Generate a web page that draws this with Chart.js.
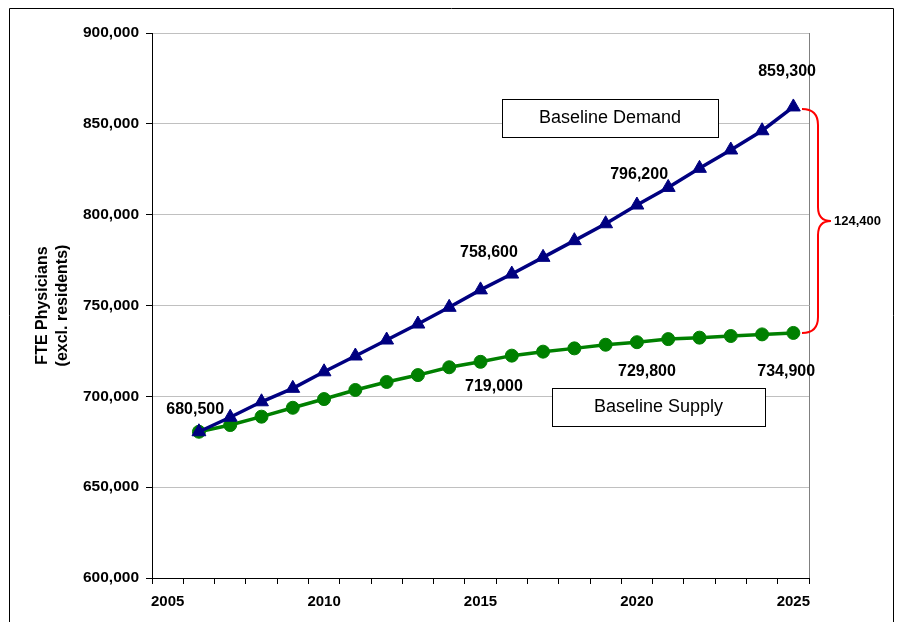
<!DOCTYPE html>
<html lang="en">
<head>
    <meta charset="UTF-8">
    <title>FTE Physicians: Baseline Demand vs Supply</title>
    <script src="https://cdn.jsdelivr.net/npm/chart.js"></script>
    <style>
        body { margin: 0; background: #fff; }
    </style>
</head>
<body>
    <canvas id="chart" width="899" height="622"></canvas>

    <script>
        // data
        const years = ['2005', '2006', '2007', '2008', '2009', '2010', '2011', '2012', '2013', '2014', '2015',
                       '2016', '2017', '2018', '2019', '2020', '2021', '2022', '2023', '2024', '2025'];
        const demand = [null, 680500, 688500, 697000, 704400, 713500, 722200, 731000, 739800, 749000, 758600,
                        767300, 776500, 785700, 795000, 805300, 815000, 825500, 835600, 846200, 859300];
        const supply = [null, 680500, 684200, 688800, 693700, 698500, 703500, 707900, 711700, 716000, 719000,
                        722400, 724600, 726400, 728400, 729800, 731500, 732300, 733200, 734100, 734900];
        const yTicks = [600000, 650000, 700000, 750000, 800000, 850000, 900000];
        const labelYears = ['2005', '2010', '2015', '2020', '2025'];

        const valueNotes = ['680,500', '758,600', '796,200', '859,300', '719,000', '729,800', '734,900'];
        const boxNotes = ['Baseline Demand', 'Baseline Supply'];
        const gapNote = '124,400';

        const FONT = "'Liberation Sans', Arial, sans-serif";
        const fmt = v => v.toLocaleString('en-US');

        // where the notes sit (year, value)
        const notePos = [
            [2005.88, 692500], [2015.27, 778900], [2020.07, 821800], [2024.8, 878500],
            [2015.43, 705100], [2020.32, 713400], [2024.77, 713400]
        ];
        const boxPos = [[2019.14, 853200, 216, 38], [2020.69, 694100, 213, 38]];

        const extras = {
            id: 'extras',
            afterDraw(chart) {
                const c = chart.ctx;
                const xs = chart.scales.x, ys = chart.scales.y, area = chart.chartArea;
                const px = yr => xs.getPixelForValue(yr - 2005);
                c.save();

                // outer frame
                c.strokeStyle = '#000';
                c.lineWidth = 1;
                c.beginPath();
                c.moveTo(9.5, 640);
                c.lineTo(9.5, 8.5);
                c.lineTo(893.5, 8.5);
                c.lineTo(893.5, 640);
                c.stroke();

                // right edge of plot area
                c.strokeStyle = '#808080';
                c.beginPath();
                c.moveTo(Math.round(area.right) + 0.5, area.top);
                c.lineTo(Math.round(area.right) + 0.5, area.bottom);
                c.stroke();

                // value labels
                c.fillStyle = '#000';
                c.font = 'bold 16px ' + FONT;
                c.textAlign = 'center';
                c.textBaseline = 'middle';
                valueNotes.forEach((t, i) => {
                    c.fillText(t, px(notePos[i][0]), ys.getPixelForValue(notePos[i][1]));
                });

                // boxed series names
                c.font = '18px ' + FONT;
                boxNotes.forEach((t, i) => {
                    const [yr, v, w, h] = boxPos[i];
                    const cx = px(yr), cy = ys.getPixelForValue(v);
                    c.fillStyle = '#fff';
                    c.fillRect(cx - w / 2, cy - h / 2, w, h);
                    c.strokeStyle = '#000';
                    c.strokeRect(Math.round(cx - w / 2) + 0.5, Math.round(cy - h / 2) + 0.5, w, h);
                    c.fillStyle = '#000';
                    c.fillText(t, cx, cy);
                });

                // red brace for the gap in the last year
                const last = demand.length - 1;
                const yTop = ys.getPixelForValue(demand[last]) + 2;
                const yBot = ys.getPixelForValue(supply[last]);
                const yMid = (yTop + yBot) / 2;
                const x0 = area.right - 7, x1 = area.right + 9, xt = area.right + 22;
                c.strokeStyle = '#ff0000';
                c.lineWidth = 2;
                c.beginPath();
                c.moveTo(x0, yTop);
                c.quadraticCurveTo(x1, yTop, x1, yTop + 16);
                c.lineTo(x1, yMid - 14);
                c.quadraticCurveTo(x1, yMid, xt, yMid);
                c.quadraticCurveTo(x1, yMid, x1, yMid + 14);
                c.lineTo(x1, yBot - 16);
                c.quadraticCurveTo(x1, yBot, x0, yBot);
                c.stroke();

                c.fillStyle = '#000';
                c.font = 'bold 13px ' + FONT;
                c.textAlign = 'left';
                c.fillText(gapNote, xt + 3, yMid);
                c.restore();
            }
        };

        new Chart(document.getElementById('chart'), {
            type: 'line',
            data: {
                labels: years,
                datasets: [{
                    label: 'Baseline Demand',
                    data: demand,
                    borderColor: '#000080',
                    backgroundColor: '#000080',
                    borderWidth: 3.5,
                    pointStyle: 'triangle',
                    pointRadius: 8,
                    pointBorderWidth: 1,
                    tension: 0
                }, {
                    label: 'Baseline Supply',
                    data: supply,
                    borderColor: '#008000',
                    backgroundColor: '#008000',
                    borderWidth: 3.5,
                    pointStyle: 'circle',
                    pointRadius: 6.5,
                    pointBorderWidth: 1,
                    tension: 0
                }]
            },
            options: {
                responsive: false,
                animation: false,
                layout: { padding: { left: 0, right: 90, top: 33, bottom: 0 } },
                plugins: {
                    legend: { display: false },
                    tooltip: { enabled: false }
                },
                scales: {
                    x: {
                        offset: true,
                        grid: {
                            offset: true,
                            drawOnChartArea: false,
                            tickColor: '#000',
                            tickLength: 6
                        },
                        border: { color: '#000' },
                        ticks: {
                            autoSkip: false,
                            maxRotation: 0,
                            padding: 9,
                            color: '#000',
                            font: { family: FONT, size: 15, weight: 'bold' },
                            callback: function(val) {
                                const y = this.getLabelForValue(val);
                                return labelYears.includes(y) ? y : '';
                            }
                        },
                        afterFit: s => { s.height = 44; }
                    },
                    y: {
                        min: 600000,
                        max: 900000,
                        afterBuildTicks: s => { s.ticks = yTicks.map(v => ({ value: v })); },
                        grid: {
                            color: '#c0c0c0',
                            tickColor: '#000',
                            tickLength: 6
                        },
                        border: { color: '#000' },
                        ticks: {
                            padding: 7,
                            color: '#000',
                            font: { family: FONT, size: 15.5, weight: 'bold' },
                            callback: v => fmt(v)
                        },
                        title: {
                            display: true,
                            text: ['FTE Physicians', '(excl. residents)'],
                            color: '#000',
                            font: { family: FONT, size: 16, weight: 'bold', lineHeight: 1.25 },
                            padding: { top: 33, bottom: 0 }
                        },
                        afterFit: s => { s.width = 152; }
                    }
                }
            },
            plugins: [extras]
        });
    </script>
</body>
</html>
